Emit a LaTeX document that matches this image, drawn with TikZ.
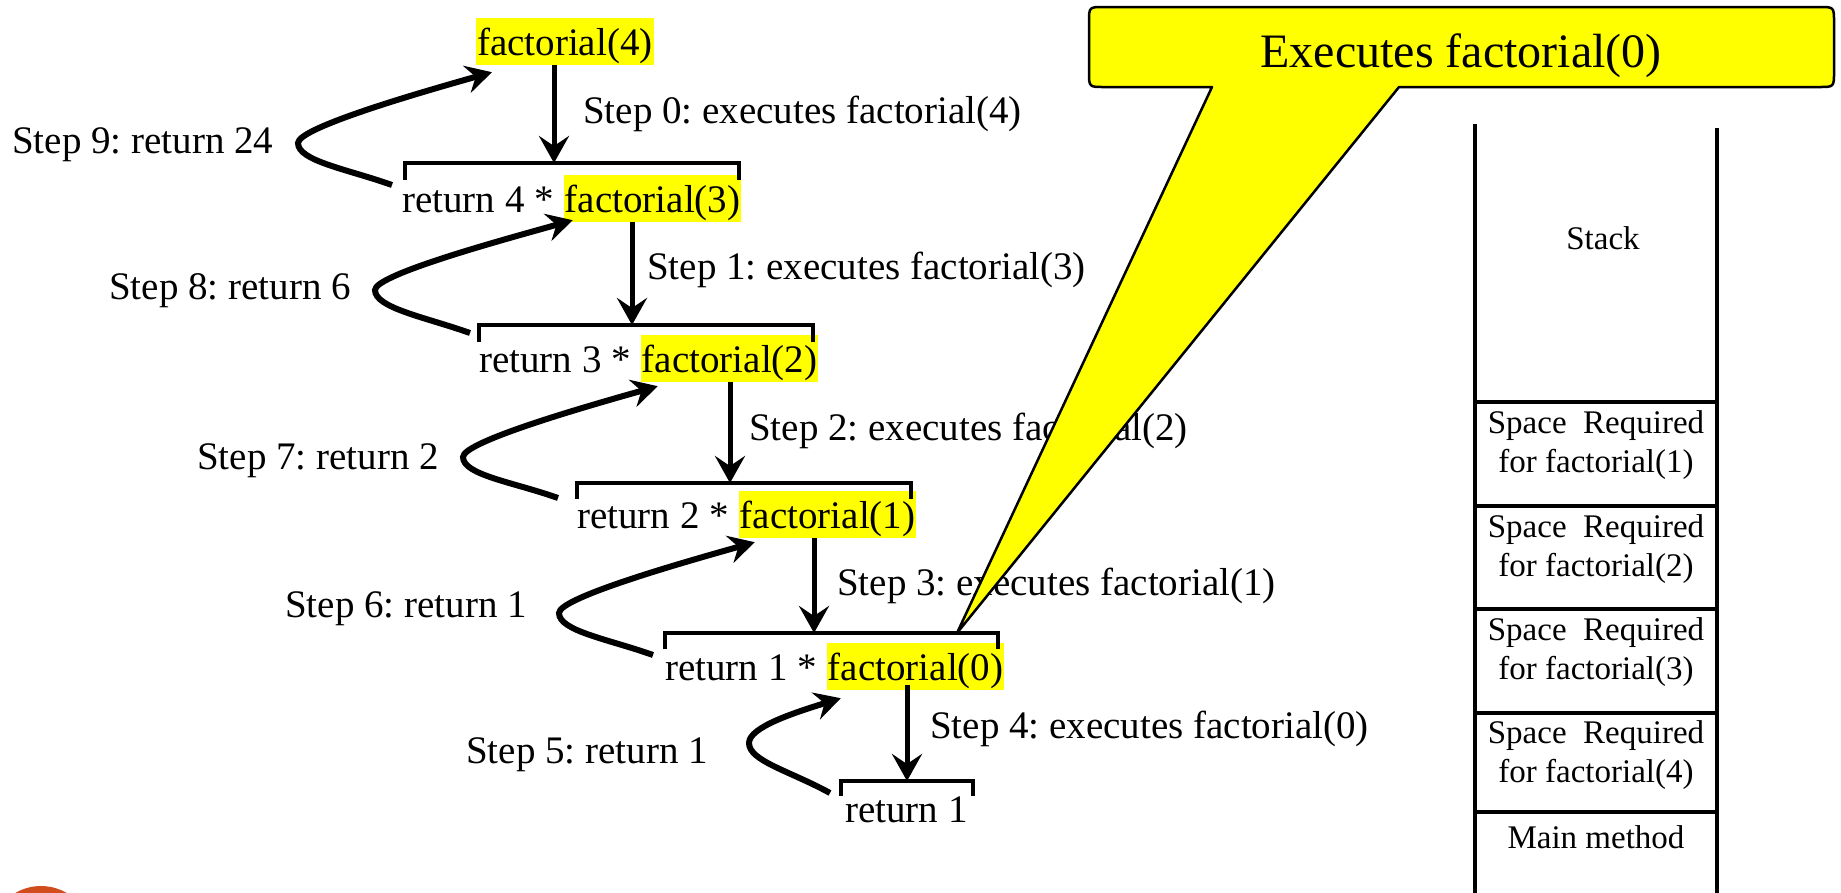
\documentclass[tikz,border=0pt]{standalone}
\usepackage{fontspec}
\setmainfont{Liberation Serif}
\usetikzlibrary{arrows.meta,calc}
\definecolor{slideorange}{RGB}{209,77,30}
\definecolor{hlyellow}{RGB}{255,255,0}
\frenchspacing
\begin{document}
\begin{tikzpicture}[x=1pt,y=-1pt,
  lbl/.style={font=\fontsize{39}{47}\selectfont, inner sep=0pt, anchor=base west},
  hl/.style={font=\fontsize{39}{47}\selectfont, fill=hlyellow, inner xsep=1pt, inner ysep=0pt, text height=37pt, text depth=10pt, anchor=base west},
  brk/.style={line width=4pt},
  varrow/.style={line width=5pt, -{Stealth[length=27pt,width=30pt,inset=10pt]}},
  carrow/.style={line width=6pt, -{Stealth[length=26pt,width=28pt,inset=9pt]}},
  stk/.style={line width=3.5pt},
  stktxt/.style={font=\fontsize{33}{39}\selectfont, inner sep=0pt, anchor=base},
]
\path[use as bounding box] (0,0) rectangle (1841,892);
\begin{scope}
  \clip (0,0) rectangle (1841,892);
  \fill[slideorange] (41,937) circle[radius=51pt];
\end{scope}

% ---- level 0
\node[hl] (f4) at (476,55) {factorial(4)};
\node[lbl] (st0) at (583,123) {Step 0: executes factorial(4)};
\node[lbl] (st9) at (12,153) {Step 9: return 24};
\node[lbl] (r4) at (402,212) {return 4 *\kern0.25em};
\node[hl] (f3) at (r4.base east) {factorial(3)};
\coordinate (b1) at (554,163);
\draw[brk] (405,180) -- (405,163) -- (739,163) -- (739,180);
\draw[varrow] (f4.south -| b1) -- (b1);

% ---- level 1
\node[lbl] (st1) at (647,279) {Step 1: executes factorial(3)};
\node[lbl] (st8) at (109,299) {Step 8: return 6};
\node[lbl] (r3) at (479,372) {return 3 *\kern0.25em};
\node[hl] (f2) at (r3.base east) {factorial(2)};
\coordinate (b2) at (632,325);
\draw[brk] (479,342) -- (479,325) -- (813,325) -- (813,342);
\draw[varrow] (f3.south -| b2) -- (b2);

% ---- level 2
\node[lbl] (st2) at (749,440) {Step 2: executes factorial(2)};
\node[lbl] (st7) at (197,469) {Step 7: return 2};
\node[lbl] (r2) at (577,528) {return 2 *\kern0.25em};
\node[hl] (f1) at (r2.base east) {factorial(1)};
\coordinate (b3) at (730,483);
\draw[brk] (577,499) -- (577,483) -- (911,483) -- (911,499);
\draw[varrow] (f2.south -| b3) -- (b3);

% ---- level 3
\node[lbl] (st3) at (837,595) {Step 3: executes factorial(1)};
\node[lbl] (st6) at (285,617) {Step 6: return 1};
\node[lbl] (r1) at (665,680) {return 1 *\kern0.25em};
\node[hl] (f0) at (r1.base east) {factorial(0)};
\coordinate (b4) at (814,633);
\draw[brk] (665,649) -- (665,633) -- (998,633) -- (998,649);
\draw[varrow] (f1.south -| b4) -- (b4);

% ---- level 4
\node[lbl] (st4) at (930,738) {Step 4: executes factorial(0)};
\node[lbl] (st5) at (466,763) {Step 5: return 1};
\node[lbl] (r0) at (845,822) {return 1};
\coordinate (b5) at (907,781);
\draw[brk] (841,796) -- (841,781) -- (973,781) -- (973,796);
\draw[varrow] ($(f0.south -| b5)+(0,-5)$) -- (b5);

% ---- return curves
\coordinate (s9) at (392,185);  \coordinate (l9) at (298,143);
\coordinate (t9) at ($(f4.south west)+(16,7)$);
\draw[carrow] (s9) .. controls +(-45,-16) and +(0,18) .. (l9) .. controls +(0,-16) and +(-60,17) .. (t9);

\coordinate (s8) at (470,333);  \coordinate (l8) at (375,290);
\coordinate (t8) at ($(f3.south west)+(9,-2)$);
\draw[carrow] (s8) .. controls +(-45,-16) and +(0,18) .. (l8) .. controls +(0,-16) and +(-60,17) .. (t8);

\coordinate (s7) at (558,498);  \coordinate (l7) at (463,457);
\coordinate (t7) at ($(f2.south west)+(17,4)$);
\draw[carrow] (s7) .. controls +(-45,-16) and +(0,18) .. (l7) .. controls +(0,-16) and +(-60,17) .. (t7);

\coordinate (s6) at (653,655);  \coordinate (l6) at (559,613);
\coordinate (t6) at ($(f1.south west)+(16,4)$);
\draw[carrow] (s6) .. controls +(-45,-16) and +(0,18) .. (l6) .. controls +(0,-16) and +(-60,17) .. (t6);

\coordinate (s5) at (830,793);  \coordinate (l5) at (749,743);
\coordinate (t5) at ($(f0.south west)+(14,8)$);
\draw[carrow] (s5) .. controls +(-40,-22) and +(0,18) .. (l5) .. controls +(0,-16) and +(-45,14) .. (t5);

% ---- callout
\coordinate (tip) at (957,633);
\filldraw[fill=hlyellow, line width=2.5pt, line join=round]
  (1212,87) -- (tip) -- (1399,87) -- (1819,87) .. controls (1834,87) .. (1834,72)
  -- (1834,22) .. controls (1834,7) .. (1819,7) -- (1104,7) .. controls (1089,7) .. (1089,22)
  -- (1089,72) .. controls (1089,87) .. (1104,87) -- cycle;
\node[font=\fontsize{48}{58}\selectfont, inner sep=0pt, anchor=base] (ctext) at (1461,67) {Executes factorial(0)};

% ---- stack
\draw[stk] (1475,124) -- (1475,895);
\draw[stk] (1717,128) -- (1717,895);
\foreach \yy in {402,506,609,713,812} \draw[stk] (1475,\yy) -- (1717,\yy);
\node[stktxt] (stack) at (1603,249) {Stack};
\node[stktxt] (sp1) at (1596,433) {\begin{tabular}[t]{@{}c@{}}Space\ \ Required\\for factorial(1)\end{tabular}};
\node[stktxt] (sp2) at (1596,537) {\begin{tabular}[t]{@{}c@{}}Space\ \ Required\\for factorial(2)\end{tabular}};
\node[stktxt] (sp3) at (1596,640) {\begin{tabular}[t]{@{}c@{}}Space\ \ Required\\for factorial(3)\end{tabular}};
\node[stktxt] (sp4) at (1596,743) {\begin{tabular}[t]{@{}c@{}}Space\ \ Required\\for factorial(4)\end{tabular}};
\node[stktxt] (mm) at (1596,848) {Main method};
\end{tikzpicture}
\end{document}
